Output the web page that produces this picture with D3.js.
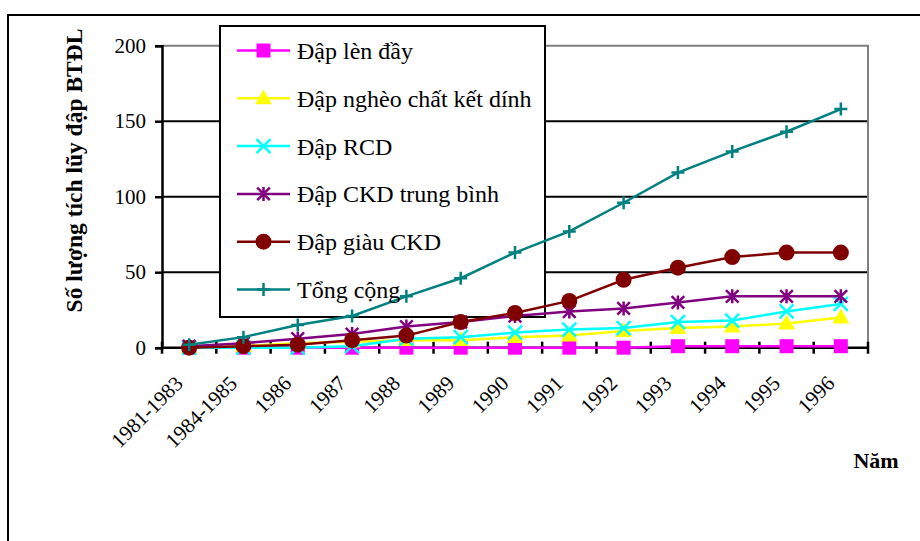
<!DOCTYPE html>
<html>
<head>
<meta charset="utf-8">
<script src="https://cdn.jsdelivr.net/npm/d3@7"></script>
<style>
  body { margin: 0; background: #fff; }
  svg { display: block; font-family: "Liberation Serif", "Times New Roman", serif; }
</style>
</head>
<body>
<div id="chart"></div>
<script>
// Cumulative number of dams by type, 1981-1996
const categories = ["1981-1983", "1984-1985", "1986", "1987", "1988", "1989", "1990",
                    "1991", "1992", "1993", "1994", "1995", "1996"];

const lenDay       = [0, 0, 0, 0, 0, 0, 0, 0, 0, 1, 1, 1, 1];
const ngheoCKD     = [0, 1, 3, 4, 5, 5, 7, 8, 11, 13, 14, 16, 20];
const rcd          = [0, 0, 0, 1, 6, 7, 10, 12, 13, 17, 18, 24, 29];
const ckdTrungBinh = [1, 3, 6, 9, 14, 17, 21, 24, 26, 30, 34, 34, 34];
const giauCKD      = [0, 1, 2, 5, 8, 17, 23, 31, 45, 53, 60, 63, 63];
const tongCong     = [2, 7, 15, 21, 34, 46, 63, 77, 96, 116, 130, 143, 158];

const seriesNames = ["Đập lèn đầy", "Đập nghèo chất kết dính", "Đập RCD",
                     "Đập CKD trung bình", "Đập giàu CKD", "Tổng cộng"];
const yTicks = [0, 50, 100, 150, 200];

const yTitle = "Số lượng tích lũy đập BTĐL";
const xTitle = "Năm";

function draw() {
  const width = 920, height = 541;
  const plot = { left: 162, right: 868, top: 45.7, bottom: 347.7 };

  const series = [
    { name: seriesNames[0], values: lenDay,       color: "#FF00FF", marker: "square" },
    { name: seriesNames[1], values: ngheoCKD,     color: "#FFFF00", marker: "triangle" },
    { name: seriesNames[2], values: rcd,          color: "#00FFFF", marker: "x" },
    { name: seriesNames[3], values: ckdTrungBinh, color: "#800080", marker: "star" },
    { name: seriesNames[4], values: giauCKD,      color: "#800000", marker: "circle" },
    { name: seriesNames[5], values: tongCong,     color: "#008080", marker: "plus" }
  ];

  const svg = d3.select("#chart")
    .append("svg")
    .attr("width", width)
    .attr("height", height);

  // outer chart border (runs off the picture at right and bottom)
  svg.append("rect")
    .attr("x", 8).attr("y", 15)
    .attr("width", 940).attr("height", 560)
    .attr("fill", "#fff")
    .attr("stroke", "#000")
    .attr("stroke-width", 2);

  const x = d3.scaleBand()
    .domain(categories)
    .range([plot.left, plot.right]);

  const y = d3.scaleLinear()
    .domain([0, 200])
    .range([plot.bottom, plot.top]);

  const cx = d => x(d) + x.bandwidth() / 2;

  // gridlines
  svg.append("g")
    .selectAll("line")
    .data(yTicks.filter(t => t > 0 && t < 200))
    .join("line")
    .attr("x1", plot.left).attr("x2", plot.right)
    .attr("y1", d => y(d)).attr("y2", d => y(d))
    .attr("stroke", "#000")
    .attr("stroke-width", 2);

  // plot area border top / right (gray)
  svg.append("path")
    .attr("d", `M${plot.left},${y(200)}H${plot.right}V${plot.bottom}`)
    .attr("fill", "none")
    .attr("stroke", "#808080")
    .attr("stroke-width", 2);

  // y axis
  const yAxis = svg.append("g")
    .attr("transform", `translate(${plot.left},0)`)
    .call(d3.axisLeft(y).tickValues(yTicks).tickSize(7).tickPadding(9))
    .call(g => g.select(".domain").attr("stroke-width", 2.5))
    .call(g => g.selectAll(".tick line").attr("stroke-width", 2.5));
  yAxis.selectAll("text")
    .style("font-family", "Liberation Serif, serif")
    .style("font-size", "21px")
    .attr("fill", "#000");

  // x axis: baseline plus crossing ticks on category boundaries
  const xg = svg.append("g");
  xg.append("line")
    .attr("x1", plot.left).attr("x2", plot.right)
    .attr("y1", y(0)).attr("y2", y(0))
    .attr("stroke", "#000")
    .attr("stroke-width", 2.5);
  xg.selectAll(".xtick")
    .data(categories.concat(["__end"]))
    .join("line")
    .attr("class", "xtick")
    .attr("x1", (d, i) => i < categories.length ? x(d) : plot.right)
    .attr("x2", (d, i) => i < categories.length ? x(d) : plot.right)
    .attr("y1", y(0) - 6).attr("y2", y(0) + 6)
    .attr("stroke", "#000")
    .attr("stroke-width", 2.5);

  xg.selectAll(".xlabel")
    .data(categories)
    .join("text")
    .attr("class", "xlabel")
    .attr("transform", d => `translate(${cx(d) - 5},${y(0) + 37}) rotate(-45)`)
    .attr("text-anchor", "end")
    .style("font-size", "21px")
    .text(d => d);

  // axis titles
  svg.append("text")
    .attr("transform", `translate(82,170.5) rotate(-90)`)
    .attr("text-anchor", "middle")
    .style("font-size", "23.5px")
    .style("font-weight", "bold")
    .text(yTitle);

  svg.append("text")
    .attr("x", 876).attr("y", 468)
    .attr("text-anchor", "middle")
    .style("font-size", "22px")
    .style("font-weight", "bold")
    .text(xTitle);

  // legend box (white, drawn before the series)
  const legend = { x: 220, y: 26, w: 325, h: 291, row0: 50.5, step: 47.8 };
  svg.append("rect")
    .attr("x", legend.x).attr("y", legend.y)
    .attr("width", legend.w).attr("height", legend.h)
    .attr("fill", "#fff")
    .attr("stroke", "#000")
    .attr("stroke-width", 2);

  // marker drawing
  function addMarker(sel, type, color) {
    const r = 7;
    if (type === "square") {
      sel.append("rect")
        .attr("x", -r).attr("y", -r).attr("width", 2 * r).attr("height", 2 * r)
        .attr("fill", color);
    } else if (type === "triangle") {
      sel.append("path")
        .attr("d", d3.symbol(d3.symbolTriangle, 125)())
        .attr("transform", "translate(0,1)")
        .attr("fill", color);
    } else if (type === "circle") {
      sel.append("circle").attr("r", 8).attr("fill", color);
    } else {
      const p = d3.path();
      const a = type === "plus" ? 6.5 : 7;
      const b = type === "x" ? 7 : 6.3;
      if (type === "plus") {
        p.moveTo(-a, 0); p.lineTo(a, 0);
      }
      if (type === "plus" || type === "star") {
        p.moveTo(0, -a); p.lineTo(0, a);
      }
      if (type === "x" || type === "star") {
        p.moveTo(-b, -b); p.lineTo(b, b);
        p.moveTo(-b, b); p.lineTo(b, -b);
      }
      sel.append("path").attr("d", p.toString())
        .attr("stroke", color).attr("stroke-width", 2.5).attr("fill", "none");
    }
  }

  // series lines and markers
  const line = d3.line()
    .x((d, i) => cx(categories[i]))
    .y(d => y(d));

  series.forEach(s => {
    const g = svg.append("g");
    g.append("path")
      .datum(s.values)
      .attr("d", line)
      .attr("fill", "none")
      .attr("stroke", s.color)
      .attr("stroke-width", 2.5);

    g.selectAll(".pt")
      .data(s.values)
      .join("g")
      .attr("class", "pt")
      .attr("transform", (d, i) => `translate(${cx(categories[i])},${y(d)})`)
      .each(function () { addMarker(d3.select(this), s.marker, s.color); });
  });

  // legend entries
  series.forEach((s, i) => {
    const row = svg.append("g")
      .attr("transform", `translate(${legend.x}, ${legend.row0 + i * legend.step})`);
    row.append("line")
      .attr("x1", 17).attr("x2", 70)
      .attr("y1", 0).attr("y2", 0)
      .attr("stroke", s.color)
      .attr("stroke-width", 2.5);
    addMarker(row.append("g").attr("transform", "translate(43.5,0)"), s.marker, s.color);
    row.append("text")
      .attr("x", 77).attr("y", 0)
      .attr("dy", "0.35em")
      .style("font-size", "24px")
      .text(s.name);
  });
}

draw();
</script>
</body>
</html>
